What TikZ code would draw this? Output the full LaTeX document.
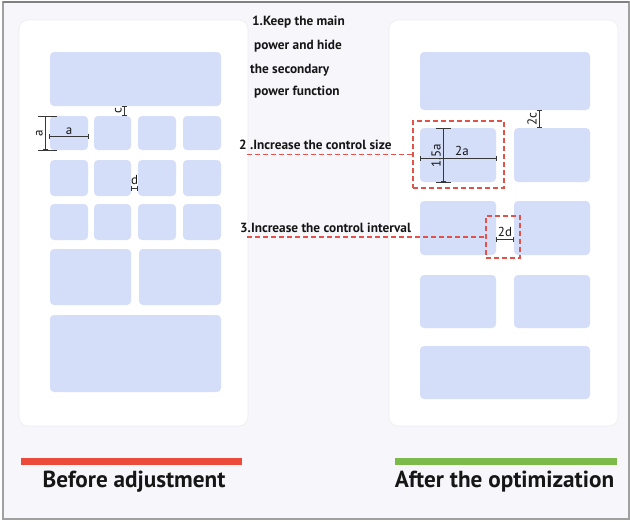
\documentclass[tikz,border=0pt]{standalone}
\usepackage{fontspec}
\setmainfont{PT Sans}
\usetikzlibrary{arrows.meta}

\definecolor{bgpage}{RGB}{247,247,251}
\definecolor{framegray}{RGB}{160,160,160}
\definecolor{paneledge}{RGB}{236,236,242}
\definecolor{blockblue}{RGB}{212,222,248}
\definecolor{leaderred}{RGB}{226,82,72}
\definecolor{barred}{RGB}{236,74,58}
\definecolor{bargreen}{RGB}{124,186,74}
\definecolor{inkdark}{RGB}{22,22,22}
\definecolor{dimgray}{RGB}{55,55,55}

% a rounded control block given by its corners (x1,y1) and (x2,y2)
\newcommand\ctrlblock[5]{%
  \node[block, minimum width={(#4-#2)*1pt}, minimum height={(#5-#3)*1pt}]
    (#1) at ({(#2+#4)/2},{(#3+#5)/2}) {};}
% a dashed highlight frame given by its corners
\newcommand\hlbox[5]{%
  \node[redbox, minimum width={(#4-#2)*1pt}, minimum height={(#5-#3)*1pt}]
    (#1) at ({(#2+#4)/2},{(#3+#5)/2}) {};}

\begin{document}
\begin{tikzpicture}[x=1pt,y=-1pt,
  block/.style={fill=blockblue, draw=none, rounded corners=4pt, inner sep=0pt},
  panel/.style={fill=white, draw=paneledge, line width=0.6pt, rounded corners=9pt},
  redbox/.style={draw=leaderred, line width=1.5pt, dash pattern=on 5pt off 3pt,
                 inner sep=0pt, fill=none},
  leader/.style={draw=leaderred, line width=1.1pt, dash pattern=on 5pt off 3pt},
  dimline/.style={draw=dimgray, line width=0.6pt, {Bar[width=5pt]}-{Bar[width=5pt]}},
  extline/.style={draw=dimgray, line width=0.6pt},
  dimlabel/.style={text=inkdark, font=\fontsize{13}{14}\selectfont, inner sep=1pt},
  note/.style={text=inkdark, font=\bfseries\fontsize{13.3}{15}\selectfont, anchor=west, inner sep=0pt},
  caption/.style={text=inkdark, font=\bfseries\fontsize{23.2}{26}\selectfont, inner sep=0pt}]

\useasboundingbox (0,0) rectangle (630,522);
\fill[white] (0,0) rectangle (630,522);
\draw[framegray, line width=1.4pt, fill=bgpage] (3,2) rectangle (629,519);
\draw[framegray!80!black, line width=1.6pt] (3,2) -- (629,2);

% the two phone panels
\node[panel, minimum width=229pt, minimum height=406pt] (leftpanel) at (133.5,223) {};
\node[panel, minimum width=229pt, minimum height=406pt] (rightpanel) at (503.5,223) {};

% ---- layout before adjustment ----
\ctrlblock{lTop}{50}{52}{221}{106}
\ctrlblock{lA1}{50}{116}{88}{150}
\ctrlblock{lA2}{94}{116}{131}{150}
\ctrlblock{lA3}{138}{116}{176}{150}
\ctrlblock{lA4}{183}{116}{221}{150}
\ctrlblock{lB1}{50}{160}{88}{196}
\ctrlblock{lB2}{94}{160}{131}{196}
\ctrlblock{lB3}{138}{160}{176}{196}
\ctrlblock{lB4}{183}{160}{221}{196}
\ctrlblock{lC1}{50}{204}{88}{240}
\ctrlblock{lC2}{94}{204}{131}{240}
\ctrlblock{lC3}{138}{204}{176}{240}
\ctrlblock{lC4}{183}{204}{221}{240}
\ctrlblock{lD1}{50}{249}{131}{305}
\ctrlblock{lD2}{139}{249}{221}{305}
\ctrlblock{lBot}{50}{315}{221}{392}

% ---- layout after the optimization ----
\ctrlblock{rTop}{420}{52}{590}{110}
\ctrlblock{rA1}{420}{128}{496}{182}
\ctrlblock{rA2}{514}{128}{590}{182}
\ctrlblock{rB1}{420}{201}{496}{255}
\ctrlblock{rB2}{514}{201}{590}{255}
\ctrlblock{rC1}{420}{275}{496}{328}
\ctrlblock{rC2}{514}{275}{590}{328}
\ctrlblock{rBot}{420}{346}{590}{399}

% ---- dimensions, left ----
\draw[extline] (38,116) -- (57,116);
\draw[extline] (38,150) -- (57,150);
\draw[dimline] (45,116) -- (45,150);
\node[dimlabel, rotate=90, anchor=south] (dimA1) at (44,133) {a};
\draw[dimline] (49,136) -- (89,136);
\node[dimlabel, anchor=south] (dimA2) at (69,136) {a};
\draw[dimline] (124,106) -- (124,116);
\node[dimlabel, rotate=90, anchor=south] (dimC) at (123,111) {c};
\draw[dimline] (131,188) -- (138,188);
\node[dimlabel, anchor=south] (dimD) at (134.5,186) {d};

% ---- dimensions, right ----
\draw[dimline] (539,110) -- (539,128);
\node[dimlabel, rotate=90, anchor=south] (dim2C) at (538,119) {2c};
\draw[extline] (436,128) -- (451,128);
\draw[extline] (436,182) -- (451,182);
\draw[dimline] (443,128) -- (443,182);
\node[dimlabel, rotate=90, anchor=south] (dim15A) at (442,156) {1.5a};
\draw[dimline] (420,158) -- (497,158);
\node[dimlabel, anchor=south] (dim2A) at (462,157) {2a};
\draw[dimline] (496,239) -- (514,239);
\node[dimlabel, anchor=south] (dim2D) at (505,238) {2d};

% ---- highlight frames ----
\hlbox{hlSize}{413}{121}{504}{188}
\hlbox{hlGap}{486}{216}{520}{258}

% ---- notes ----
\node[note] (n1a) at (252,22) {1.Keep the main};
\node[note] (n1b) at (254,46) {power and hide};
\node[note] (n1c) at (250,70) {the secondary};
\node[note] (n1d) at (254,92) {power function};
\node[note] (n2) at (239,145) {2 .Increase the control size};
\node[note] (n3) at (240,228) {3.Increase the control interval};

\coordinate (l2start) at (247,154.5);
\coordinate (l3start) at (247,237);
\draw[leader] (l2start) -- (hlSize.west);
\draw[leader] (l3start) -- (hlGap.west);

% ---- captions ----
\fill[barred] (21,458) rectangle (242,465);
\fill[bargreen] (395,458) rectangle (617,465);
\node[caption] (capBefore) at (134,482) {Before adjustment};
\node[caption] (capAfter) at (504.5,482) {After the optimization};
\end{tikzpicture}
\end{document}
